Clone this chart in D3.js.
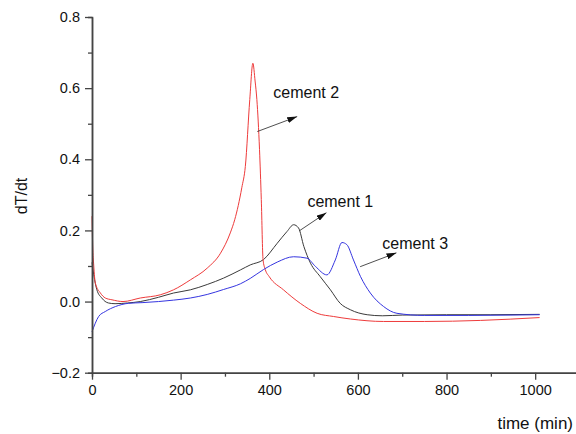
<!DOCTYPE html>
<meta charset="utf-8">
<style>
body { margin: 0; background: #fff; }
text { font-family: "Liberation Sans", Arial, sans-serif; fill: #111; }
</style>
<body>
<script src="https://cdn.jsdelivr.net/npm/d3@7"></script>
<script>
var width = 576,
    height = 434;

// cement 1 (black)
var t1 = [0, 4, 11, 22, 37, 52, 80, 109, 150, 184, 222, 260, 297, 335, 357, 387, 418, 440, 455, 466, 478, 493, 515, 538, 560, 583, 621, 655, 700, 800, 900, 1010];
var v1 = [0.11, 0.075, 0.033, 0.01, -0.004, -0.006, -0.004, 0.0, 0.012, 0.024, 0.033, 0.048, 0.066, 0.089, 0.103, 0.118, 0.164, 0.197, 0.216, 0.207, 0.155, 0.108, 0.07, 0.033, -0.005, -0.023, -0.037, -0.04, -0.038, -0.037, -0.037, -0.036];

// cement 2 (red)
var t2 = [0, 1.5, 4, 7.5, 19, 30, 45, 70, 109, 154, 184, 222, 260, 290, 312, 322, 330, 338, 346, 356, 363, 368, 372, 378, 382, 386, 391, 400, 432, 470, 508, 545, 583, 658, 750, 877, 1010];
var v2 = [0.24, 0.16, 0.1, 0.052, 0.024, 0.01, 0.005, 0.0, 0.01, 0.019, 0.033, 0.061, 0.094, 0.136, 0.193, 0.23, 0.27, 0.32, 0.38, 0.568, 0.67, 0.62, 0.568, 0.427, 0.287, 0.117, 0.09, 0.07, 0.033, -0.005, -0.033, -0.042, -0.049, -0.056, -0.056, -0.053, -0.045];

// cement 3 (blue)
var t3 = [0, 15, 30, 53, 82, 113, 150, 184, 222, 260, 297, 335, 357, 387, 418, 455, 485, 504, 530, 549, 564, 575, 590, 606, 628, 658, 688, 750, 850, 950, 1010];
var v3 = [-0.085, -0.042, -0.028, -0.014, -0.005, -0.003, 0.0, 0.004, 0.01, 0.02, 0.034, 0.05, 0.065, 0.09, 0.111, 0.126, 0.122, 0.099, 0.075, 0.117, 0.166, 0.16, 0.117, 0.07, 0.024, -0.014, -0.033, -0.039, -0.039, -0.038, -0.037];

var seriesNames = ["cement 1", "cement 2", "cement 3"];
var seriesColors = ["#3a3a3a", "#ee3b3b", "#3535e0"];

// annotations in data units
var noteLabels = ["cement 2", "cement 1", "cement 3"];
var noteTextX = [409, 486, 655];
var noteTextY = [0.571, 0.267, 0.148];
var arrowFromX = [373, 468, 605];
var arrowFromY = [0.478, 0.199, 0.098];
var arrowToX = [463, 529, 687];
var arrowToY = [0.52, 0.25, 0.137];

var xMajor = [0, 200, 400, 600, 800, 1000];
var xMinor = [100, 300, 500, 700, 900];
var yMajor = [-0.2, 0.0, 0.2, 0.4, 0.6, 0.8];
var yMinor = [-0.1, 0.1, 0.3, 0.5, 0.7];

var x = d3.scaleLinear().domain([0, 1100]).range([92, 579.5]);
var y = d3.scaleLinear().domain([-0.2, 0.8]).range([372.7, 17]);

var svg = d3.select("body").append("svg")
    .attr("width", width)
    .attr("height", height);

svg.append("defs").append("marker")
    .attr("id", "head")
    .attr("viewBox", "0 0 10 6")
    .attr("refX", 10).attr("refY", 3)
    .attr("markerWidth", 10).attr("markerHeight", 6)
    .attr("markerUnits", "userSpaceOnUse")
    .attr("orient", "auto")
  .append("path")
    .attr("d", "M0,0L10,3L0,6Z")
    .attr("fill", "#111");

var series = [[t1, v1], [t2, v2], [t3, v3]];
var line = d3.line()
    .curve(d3.curveMonotoneX)
    .x(function(d) { return x(d[0]); })
    .y(function(d) { return y(d[1]); });

series.forEach(function(s, i) {
  var pts = s[0].map(function(t, j) { return [t, s[1][j]]; });
  svg.append("path")
      .datum(pts)
      .attr("fill", "none")
      .attr("stroke", seriesColors[i])
      .attr("stroke-width", 1)
      .attr("d", line);
});

function styleAxis(g) {
  g.select(".domain").attr("stroke", "#444").attr("stroke-width", 1.5);
  g.selectAll(".tick line").attr("stroke", "#444").attr("stroke-width", 1.3);
  g.selectAll(".tick text").style("font-size", "14.5px").attr("fill", "#111");
}

svg.append("g")
    .attr("transform", "translate(0," + y(-0.2) + ")")
    .call(d3.axisBottom(x).tickValues(xMinor).tickSize(4).tickFormat(""))
    .call(styleAxis);
svg.append("g")
    .attr("transform", "translate(0," + y(-0.2) + ")")
    .call(d3.axisBottom(x).tickValues(xMajor).tickSize(7).tickSizeOuter(0).tickPadding(5).tickFormat(d3.format("d")))
    .call(styleAxis);

svg.append("g")
    .attr("transform", "translate(" + x(0) + ",0)")
    .call(d3.axisLeft(y).tickValues(yMinor).tickSize(4).tickFormat(""))
    .call(styleAxis);
svg.append("g")
    .attr("transform", "translate(" + x(0) + ",0)")
    .call(d3.axisLeft(y).tickValues(yMajor).tickSize(7).tickSizeOuter(0).tickPadding(5).tickFormat(d3.format(".1f")))
    .call(styleAxis);

// annotations
noteLabels.forEach(function(lbl, i) {
  svg.append("line")
      .attr("x1", x(arrowFromX[i])).attr("y1", y(arrowFromY[i]))
      .attr("x2", x(arrowToX[i])).attr("y2", y(arrowToY[i]))
      .attr("stroke", "#222").attr("stroke-width", 0.8)
      .attr("marker-end", "url(#head)");
  svg.append("text")
      .attr("x", x(noteTextX[i])).attr("y", y(noteTextY[i]))
      .style("font-size", "16px")
      .text(lbl);
});

svg.append("text")
    .attr("transform", "translate(27,196) rotate(-90)")
    .attr("text-anchor", "middle")
    .style("font-size", "16px")
    .text("dT/dt");

svg.append("text")
    .attr("x", 573).attr("y", 429)
    .attr("text-anchor", "end")
    .style("font-size", "17px")
    .text("time (min)");
</script>
</body>
